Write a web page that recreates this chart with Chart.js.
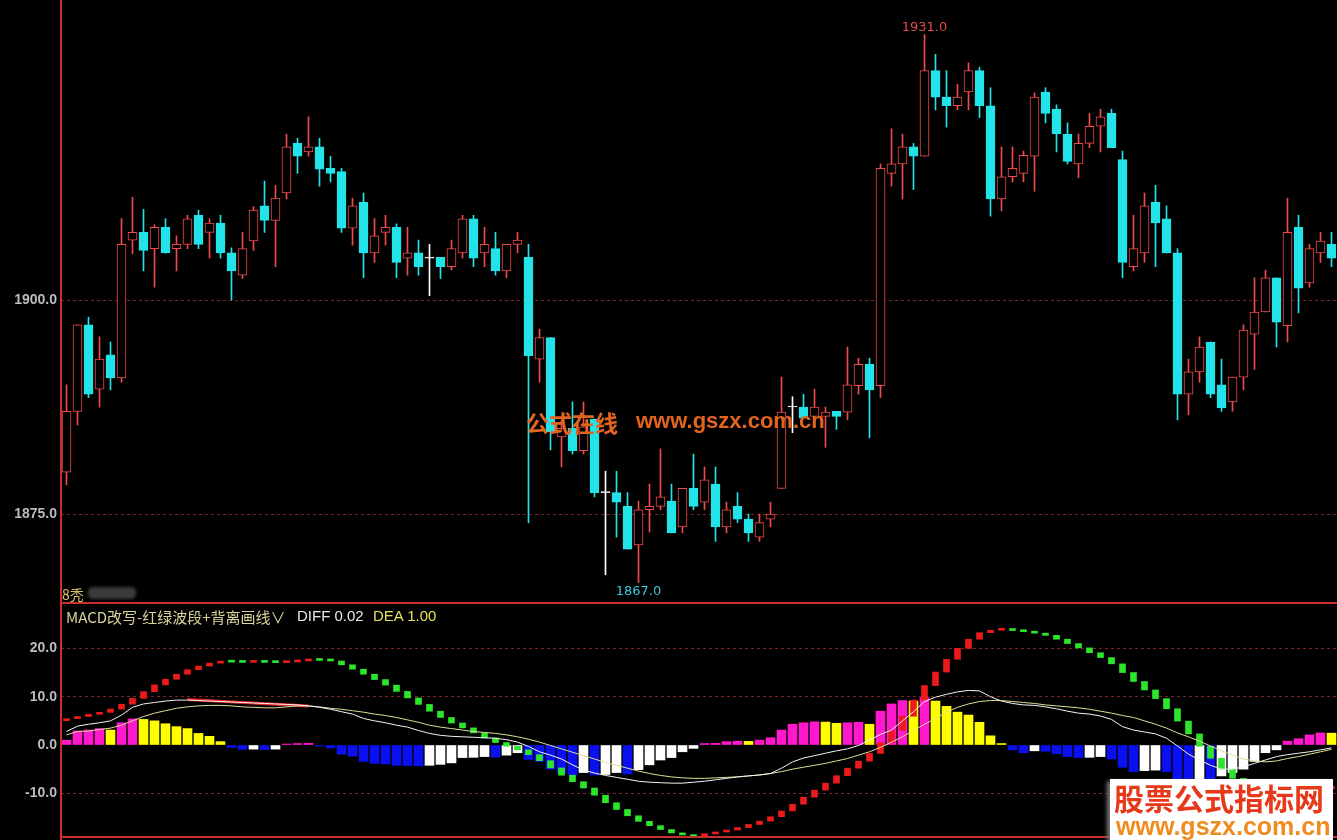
<!DOCTYPE html>
<html><head><meta charset="utf-8">
<script src="https://cdn.jsdelivr.net/npm/chart.js@4.4.1/dist/chart.umd.min.js"></script>
<style>
html,body{margin:0;padding:0;background:#000;overflow:hidden;}
#wrap{position:relative;width:1337px;height:840px;background:#000;}
canvas{position:absolute;left:0;}
#c1{top:0;} #c2{top:604px;}
.t{position:absolute;white-space:nowrap;line-height:1;}
</style></head><body>
<div id="wrap">
<canvas id="c1" width="1337" height="604"></canvas>
<canvas id="c2" width="1337" height="236"></canvas>
<div class="t" style="left:62px;top:584px;font:14px 'Noto Sans CJK SC';color:#d8c070">8秃</div>
<div class="t" style="left:88px;top:587px;width:48px;height:12px;background:#3a3a3a;border-radius:5px;filter:blur(1.5px)"></div>
<div class="t" style="left:66px;top:606px;font:15px 'Noto Sans CJK SC';color:#d8d49c">MACD改写-红绿波段+背离画线∨</div>
<div class="t" style="left:297px;top:607px;font:15px 'Liberation Sans';color:#e8e8e8">DIFF 0.02</div>
<div class="t" style="left:373px;top:607px;font:15px 'Liberation Sans';color:#e6e060">DEA 1.00</div>
<div class="t" style="left:526px;top:405px;font:bold 23px 'Noto Sans CJK SC';color:#e2641e">公式在线</div>
<div class="t" style="left:636px;top:408px;font:bold 22px 'Liberation Sans';color:#e2641e">www.gszx.com.cn</div>
<div class="t" style="left:1110px;top:779px;width:223px;height:61px;background:#fff;box-shadow:-3px 2px 4px #777"></div>
<div class="t" style="left:1114px;top:775px;font:bold 30px 'Noto Sans CJK SC';color:#e8381a">股票公式指标网</div>
<div class="t" style="left:1116px;top:812px;font:bold 25px 'Liberation Sans';color:#f08c1e">www.gszx.com.cn</div>
</div>
<script>
// ---------- price data (one value per bar) ----------
const open = [1879.9,1887.0,1897.1,1889.6,1893.6,1890.9,1907.0,1907.9,1906.0,1908.5,
1906.0,1906.5,1909.9,1907.9,1909.0,1905.5,1902.9,1906.9,1911.0,1909.3,
1912.5,1918.3,1917.3,1917.9,1915.4,1915.0,1908.4,1911.4,1905.5,1907.9,
1908.5,1904.9,1905.5,1904.9,1905.0,1903.9,1905.5,1909.5,1905.5,1906.0,
1903.4,1906.5,1905.0,1893.1,1895.6,1884.0,1885.0,1882.4,1886.1,1877.5,
1877.5,1875.9,1871.4,1875.5,1875.9,1876.5,1873.5,1878.0,1876.4,1878.5,
1873.5,1875.9,1874.4,1872.3,1874.4,1878.0,1887.5,1887.5,1886.4,1886.4,
1887.0,1886.9,1890.0,1892.5,1890.0,1914.8,1915.9,1917.9,1916.8,1926.8,
1923.7,1922.7,1924.3,1926.8,1922.7,1911.8,1914.4,1914.8,1916.8,1924.3,
1922.3,1919.4,1915.9,1918.3,1920.3,1921.8,1916.4,1903.9,1905.5,1911.4,
1909.5,1905.5,1889.0,1891.6,1895.1,1890.1,1888.1,1891.0,1896.0,1898.6,
1902.6,1897.0,1908.5,1902.0,1905.5,1906.5];
const close = [1887.0,1897.1,1889.0,1893.1,1890.9,1906.5,1907.9,1905.8,1908.5,1905.5,
1906.5,1909.5,1906.5,1909.0,1905.5,1903.4,1906.0,1910.5,1909.3,1911.9,
1917.9,1916.8,1917.9,1915.3,1914.8,1908.4,1911.0,1905.5,1907.5,1908.5,
1904.4,1905.5,1903.9,1904.9,1903.9,1906.0,1909.5,1904.9,1906.5,1903.4,
1906.5,1907.0,1893.5,1895.6,1884.6,1885.0,1882.4,1885.2,1877.5,1877.5,
1876.4,1870.9,1875.5,1875.9,1877.0,1872.8,1878.0,1875.9,1879.0,1873.5,
1875.5,1874.4,1872.8,1874.0,1875.0,1886.9,1887.5,1886.2,1887.5,1886.9,
1886.4,1890.1,1892.5,1889.5,1915.4,1915.9,1917.9,1916.8,1926.8,1923.7,
1922.7,1923.7,1926.8,1922.7,1911.8,1914.4,1915.4,1916.9,1923.7,1921.8,
1919.4,1916.2,1918.3,1920.3,1921.4,1917.8,1904.4,1906.0,1911.0,1909.0,
1905.5,1889.0,1891.6,1894.5,1889.0,1887.4,1891.0,1896.5,1898.6,1902.6,
1897.4,1907.9,1901.4,1906.0,1906.9,1904.9];
const high = [1890.1,1897.1,1898.0,1895.7,1895.1,1909.5,1912.0,1910.6,1908.8,1909.5,
1907.5,1909.9,1910.5,1909.5,1909.9,1906.1,1907.9,1910.9,1913.9,1913.4,
1919.4,1918.9,1921.4,1918.9,1916.8,1915.4,1911.9,1912.5,1909.5,1909.9,
1908.9,1908.5,1907.0,1906.5,1905.0,1907.0,1909.9,1909.9,1908.5,1907.9,
1906.5,1907.9,1906.5,1896.6,1895.6,1886.0,1888.1,1888.1,1886.1,1880.0,
1880.0,1877.5,1876.5,1878.5,1882.6,1878.5,1878.0,1882.0,1880.5,1880.5,
1876.4,1877.5,1875.0,1875.0,1876.4,1891.0,1888.7,1889.0,1889.6,1887.5,
1887.0,1894.5,1893.2,1893.2,1915.9,1920.0,1919.4,1918.3,1931.0,1928.7,
1926.8,1925.2,1927.7,1927.2,1924.8,1917.9,1917.9,1917.4,1924.2,1924.8,
1922.8,1920.7,1919.4,1921.8,1922.3,1922.3,1917.4,1909.9,1912.5,1913.4,
1911.0,1906.0,1893.1,1895.7,1895.1,1893.1,1891.0,1897.1,1902.6,1903.5,
1902.6,1911.9,1909.9,1906.5,1907.9,1907.9];
const low = [1878.4,1885.4,1888.6,1887.5,1889.5,1890.4,1905.4,1903.4,1901.5,1905.5,
1903.4,1906.0,1906.0,1904.9,1904.9,1900.0,1902.5,1905.8,1907.9,1903.9,
1911.8,1914.8,1916.8,1913.3,1913.8,1907.9,1906.4,1902.6,1904.4,1906.4,
1902.6,1902.9,1902.9,1900.5,1902.5,1903.5,1904.9,1903.9,1903.9,1902.9,
1902.6,1905.5,1874.0,1890.4,1882.5,1880.5,1882.0,1882.0,1877.0,1867.9,
1872.3,1870.9,1867.0,1872.9,1875.5,1872.8,1872.8,1875.5,1875.5,1871.8,
1872.8,1874.0,1871.8,1871.8,1873.5,1878.0,1884.5,1886.2,1886.0,1882.8,
1884.9,1886.0,1889.0,1883.9,1888.6,1913.3,1911.8,1912.9,1916.8,1922.2,
1920.2,1922.2,1922.2,1921.3,1909.8,1910.4,1913.8,1913.8,1912.7,1920.7,
1917.3,1915.9,1914.3,1917.8,1917.3,1917.8,1902.6,1903.4,1904.4,1903.9,
1905.5,1886.0,1886.6,1890.4,1888.6,1887.0,1887.0,1889.5,1891.9,1898.6,
1894.5,1895.1,1898.5,1901.5,1904.4,1903.9];
const priceTicks = [1875, 1900];

// ---------- MACD panel data ----------
const diff = [2.8,3.9,4.3,4.6,5.0,6.2,7.8,8.5,8.8,9.1,
9.3,9.3,9.2,9.1,9.0,8.9,8.8,8.7,8.6,8.5,
8.4,8.3,8.1,7.8,7.4,6.9,6.4,5.5,5.0,4.6,
4.1,3.7,3.0,2.4,2.0,1.8,1.7,1.6,1.5,1.4,
1.1,0.6,-0.3,-1.4,-2.1,-2.9,-4.1,-5.2,-5.8,-6.3,
-6.7,-7.1,-7.5,-7.7,-7.8,-7.9,-7.9,-7.7,-7.5,-7.2,
-6.9,-6.6,-6.4,-6.2,-5.9,-4.8,-3.5,-2.7,-2.2,-1.7,
-1.2,-0.8,-0.1,1.0,2.2,3.1,5.0,6.9,9.0,9.9,
10.5,11.0,11.3,11.2,10.0,9.1,8.6,8.3,8.2,7.9,
7.5,7.0,6.6,6.4,6.0,5.3,3.8,3.1,2.7,2.3,
1.4,-0.2,-1.9,-3.1,-4.2,-5.0,-5.0,-4.5,-3.8,-3.1,
-2.4,-2.0,-1.7,-1.4,-1.0,-0.6];
const dea = [2.1,2.8,2.9,3.2,3.5,4.1,5.0,5.9,6.6,7.1,
7.6,7.9,8.1,8.2,8.2,8.1,7.9,7.8,7.7,7.7,
7.9,8.1,8.1,7.9,7.6,7.4,7.1,6.8,6.4,6.1,
5.7,5.2,4.7,4.1,3.7,3.4,3.1,2.8,2.6,2.4,
2.1,1.7,1.2,0.6,-0.1,-0.8,-1.5,-2.2,-2.9,-3.6,
-4.2,-4.8,-5.4,-5.9,-6.3,-6.6,-6.8,-6.9,-6.9,-6.8,
-6.7,-6.6,-6.4,-6.2,-5.9,-5.5,-5.0,-4.6,-4.2,-3.8,
-3.3,-2.8,-2.1,-1.4,-0.5,0.6,1.7,3.0,4.3,5.5,
6.8,7.8,8.5,9.0,9.2,9.2,9.0,8.8,8.6,8.3,
8.1,7.9,7.7,7.4,7.0,6.6,6.1,5.7,5.0,4.3,
3.5,2.5,1.7,0.8,-0.2,-1.2,-2.1,-2.9,-3.3,-3.5,
-3.3,-2.8,-2.4,-1.9,-1.4,-0.9];
const hist = [1.0,2.9,3.1,3.4,3.1,4.6,5.4,5.3,5.0,4.4,
3.8,3.4,2.4,1.8,0.7,-0.5,-0.9,-0.85,-0.95,-0.85,
0.2,0.3,0.35,-0.2,-0.6,-1.9,-2.3,-3.4,-3.8,-3.9,
-4.2,-4.25,-4.3,-4.2,-4.0,-3.7,-2.6,-2.55,-2.4,-2.5,
-2.1,-1.6,-3.0,-3.4,-5.0,-5.7,-6.2,-5.7,-6.2,-6.1,
-5.7,-6.0,-5.1,-4.1,-3.1,-2.6,-1.4,-0.7,0.3,0.35,
0.7,0.8,0.75,1.0,1.5,3.1,4.3,4.6,4.8,4.75,
4.5,4.6,4.7,4.3,7.0,8.5,9.2,9.1,9.8,9.1,
8.0,6.8,6.2,4.7,1.9,0.3,-1.0,-1.6,-1.2,-1.3,
-1.8,-2.4,-2.6,-2.55,-2.4,-2.9,-4.6,-5.5,-5.3,-5.2,
-5.5,-7.3,-7.6,-7.0,-7.4,-6.4,-5.7,-5.0,-3.4,-1.6,
-1.0,0.8,1.3,2.1,2.5,2.45];
// 波段 trend line (drawn as steps between consecutive values)
const trend = [5.45,5.9,6.35,6.75,7.45,8.45,9.65,11.05,12.45,13.6,
14.65,15.6,16.35,16.95,17.2,17.15,17.1,17.15,17.1,17.05,
17.2,17.4,17.55,17.5,17.4,16.6,15.7,14.65,13.55,12.4,
11.1,9.75,8.4,7.0,5.7,4.55,3.55,2.5,1.45,0.5,
-0.25,-1.0,-2.0,-3.25,-4.75,-6.25,-7.6,-8.9,-10.4,-11.95,
-13.35,-14.65,-15.8,-16.7,-17.5,-18.2,-18.55,-18.6,-18.35,-18.0,
-17.6,-17.1,-16.45,-15.75,-14.85,-13.65,-12.25,-10.8,-9.35,-7.9,
-6.35,-4.8,-3.35,-1.75,0.5,3.05,5.95,9.3,12.3,15.1,
17.75,20.0,21.9,23.25,23.75,23.8,23.7,23.45,23.15,22.7,
21.9,21.0,20.1,19.1,18.1,16.8,15.0,13.15,11.4,9.6,
7.5,4.95,2.3,-0.25,-2.75,-5.0,-6.9,-8.3,-9.2,-9.7,
-9.9,-9.95,-9.7,-9.4,-9.0,-8.6];
const divergence = [{i: 11, v: 9.4}, {i: 22, v: 8.1}];
const macdTicks = [20, 10, 0, -10];

// ---------- build ----------
const categories = open.map((_, i) => String(i + 1));
const UP = '#f04a4a', DOWN = '#22e4e8', DOJI = '#ffffff';
const candleColor = open.map((o, i) => close[i] > o ? UP : close[i] < o ? DOWN : DOJI);
const bodyFill = open.map((o, i) => close[i] > o ? '#000000' : close[i] < o ? DOWN : DOJI);
const GRID = '#7a2424', FRAME = '#c8302e';
const tickFont = {family: 'Liberation Sans', size: 14, weight: 'bold'};

function drawFrame(ch) {
  const {ctx, chartArea: a} = ch;
  ctx.save();
  ctx.fillStyle = FRAME;
  ctx.fillRect(a.left - 1, 0, 2, ch.height);
  ctx.fillRect(a.left, a.bottom - 2, a.right - a.left, 2);
  ctx.restore();
}

const topPlugin = {
  id: 'topDeco',
  afterDraw(ch) {
    drawFrame(ch);
    const {ctx, scales: {x, y}} = ch;
    ctx.save();
    const hiV = Math.max(...high), loV = Math.min(...low);
    const hi = high.indexOf(hiV), lo = low.indexOf(loV);
    ctx.font = '13px "DejaVu Sans"'; ctx.textAlign = 'center';
    ctx.fillStyle = '#e04c4c'; ctx.textBaseline = 'bottom';
    ctx.fillText(hiV.toFixed(1), x.getPixelForValue(hi), y.getPixelForValue(hiV) - 1);
    ctx.fillStyle = '#3cc8d4'; ctx.textBaseline = 'top';
    ctx.fillText(loV.toFixed(1), x.getPixelForValue(lo), y.getPixelForValue(loV) + 3);
    ctx.restore();
  }
};
const botPlugin = { id: 'botDeco', afterDraw(ch) { drawFrame(ch); } };

function yAxis(min, max, ticks, zeroGrid) {
  return {
    min, max,
    afterFit(s) { s.width = 61; s.paddingTop = 0; s.paddingBottom = 0; },
    afterBuildTicks(s) { s.ticks = ticks.map(v => ({value: v})); },
    ticks: {color: '#bcbcbc', font: tickFont, padding: 4, callback: v => Number(v).toFixed(1)},
    grid: {color: c => (!zeroGrid && c.tick && c.tick.value === 0) ? 'rgba(0,0,0,0)' : GRID, drawTicks: false, lineWidth: 1},
    border: {display: false, dash: [3, 3]}
  };
}

new Chart(document.getElementById('c1'), {
  type: 'bar',
  data: {labels: categories, datasets: [
    {data: open.map((o, i) => [o, close[i]]), backgroundColor: bodyFill, borderColor: candleColor,
     borderWidth: 1, borderSkipped: false, barThickness: 9, grouped: false, minBarLength: 1},
    {data: low.map((l, i) => [l, high[i]]), backgroundColor: candleColor, borderWidth: 0,
     barThickness: 1, grouped: false}
  ]},
  options: {
    responsive: false, animation: false, events: [], layout: {padding: 0},
    plugins: {legend: {display: false}, tooltip: {enabled: false}},
    scales: {x: {display: false, offset: true}, y: yAxis(1864.49, 1935.05, priceTicks, true)}
  },
  plugins: [topPlugin]
});

const MAG = '#ff18cc', YEL = '#ffff00', BLUE = '#0a10f0', WHITE = '#ffffff';
const histColors = hist.map((v, i) => {
  const p = i ? hist[i - 1] : 0;
  if (v >= 0) return v > p ? MAG : YEL;
  return v < p ? BLUE : WHITE;
});
const RED = '#ec1a1a', GREEN = '#2ce62c';
const trendBars = trend.map((v, i) => [i ? trend[i - 1] : v, v]);
const trendColors = trend.map((v, i) => (i && v < trend[i - 1]) ? GREEN : RED);
const divData = categories.map(() => null);
divergence.forEach(d => { divData[d.i] = d.v; });

new Chart(document.getElementById('c2'), {
  type: 'bar',
  data: {labels: categories, datasets: [
    {type: 'line', data: diff, borderColor: '#f4f4f4', borderWidth: 1, pointRadius: 0, tension: 0},
    {type: 'line', data: dea, borderColor: '#dede96', borderWidth: 1, pointRadius: 0, tension: 0},
    {type: 'line', data: divData, borderColor: '#e02828', borderWidth: 3, pointRadius: 0, spanGaps: true},
    {data: trendBars, backgroundColor: trendColors, borderWidth: 0, barThickness: 6, grouped: false, minBarLength: 2},
    {data: hist, backgroundColor: histColors, borderWidth: 0, barThickness: 9, grouped: false}
  ]},
  options: {
    responsive: false, animation: false, events: [], layout: {padding: {bottom: 2}},
    plugins: {legend: {display: false}, tooltip: {enabled: false}},
    scales: {x: {display: false, offset: true}, y: yAxis(-19.25, 29.19, macdTicks, false)}
  },
  plugins: [botPlugin]
});
</script>
</body></html>
